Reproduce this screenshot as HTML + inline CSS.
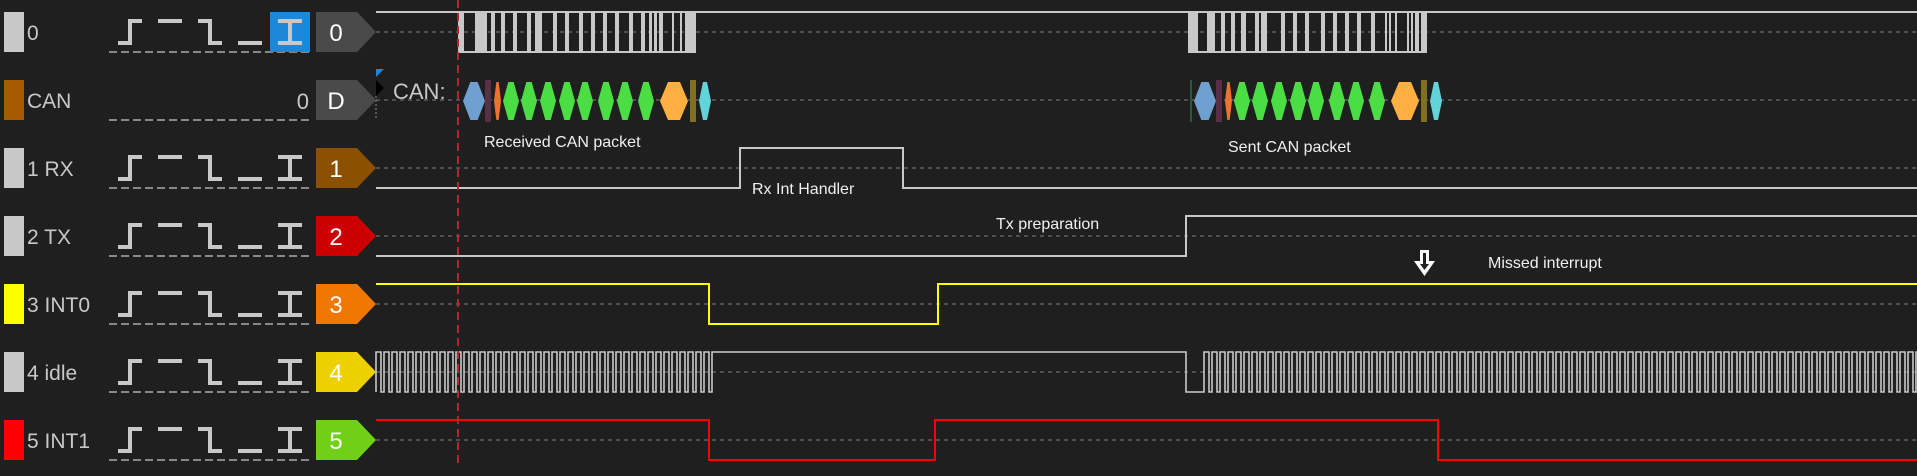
<!DOCTYPE html>
<html><head><meta charset="utf-8"><style>
html,body{margin:0;padding:0;background:#1f1f1f;overflow:hidden}
svg{display:block}
text{font-family:"Liberation Sans","DejaVu Sans",sans-serif}
</style></head><body>
<svg id="s" width="1917" height="476" xmlns="http://www.w3.org/2000/svg">
<rect width="1917" height="476" fill="#1f1f1f"/>
</svg>
<script>
var s=document.getElementById('s');var out='';
function add(x){out+=x;}
var G='#c8c8c8';
var rows=[
 {lab:'0',col:'#c8c8c8',tag:'0',tc:'#4a4a4a'},
 {lab:'CAN',col:'#a85a00',tag:'D',tc:'#4a4a4a'},
 {lab:'1 RX',col:'#c8c8c8',tag:'1',tc:'#8b5000'},
 {lab:'2 TX',col:'#c8c8c8',tag:'2',tc:'#cc0000'},
 {lab:'3 INT0',col:'#ffff00',tag:'3',tc:'#f07800'},
 {lab:'4 idle',col:'#c8c8c8',tag:'4',tc:'#ecd000'},
 {lab:'5 INT1',col:'#ff0000',tag:'5',tc:'#70d018'}];
rows.forEach(function(r,i){
 var c=32+68*i,t=c-20,b=c+20;
 add('<rect x="4" y="'+t+'" width="20" height="40" fill="'+r.col+'"/>');
 add('<text x="27" y="'+(c+8)+'" font-size="21" fill="#c8c8c8">'+r.lab+'</text>');
 add('<line x1="109" y1="'+(b)+'" x2="311" y2="'+b+'" stroke="'+G+'" stroke-width="1.3" stroke-dasharray="8,4"/>');
 if(i==1){add('<text x="309" y="'+(c+9)+'" font-size="22" fill="#c8c8c8" text-anchor="end">0</text>');}
 else{
  if(i==0)add('<rect x="270" y="'+t+'" width="40" height="40" fill="#1e88d8"/>');
  var y1=c-11,y2=c+11,P='stroke="'+G+'" stroke-width="4" fill="none"';
  add('<path d="M118 '+y2+'H130V'+y1+'H142" '+P+'/>');
  add('<path d="M158 '+(y1)+'H182" '+P+'/>');
  add('<path d="M198 '+y1+'H210V'+y2+'H222" '+P+'/>');
  add('<path d="M238 '+y2+'H262" '+P+'/>');
  add('<path d="M278 '+y1+'H302M278 '+y2+'H302M290 '+y1+'V'+y2+'" '+P+'/>');
 }
 add('<path d="M316 '+t+'H357L376 '+c+'L357 '+b+'H316Z" fill="'+r.tc+'"/>');
 add('<text x="336" y="'+(c+9)+'" font-size="24" fill="#fff" text-anchor="middle">'+r.tag+'</text>');
 add('<line x1="376" y1="'+c+'" x2="1917" y2="'+c+'" stroke="#6c6c6c" stroke-width="1.3" stroke-dasharray="4,4"/>');
});
function burst(x0,x1,blocks){
 add('<path d="M'+x0+' 12V52H'+x1+'V12" stroke="'+G+'" stroke-width="2" fill="none"/>');
 blocks.forEach(function(b){add('<rect x="'+b[0]+'" y="12" width="'+(b[1]-b[0])+'" height="41" fill="'+G+'"/>');});
}
add('<path d="M376 12H1917" stroke="'+G+'" stroke-width="2"/>');
burst(459,695,[[459,464],[475,487],[491,495],[501,505],[513,517],[527,531],[535,542],[553,557],[565,569],[579,583],[591,595],[603,607],[615,619],[629,633],[641,645],[649,652],[654,657],[659,663],[672,674],[680,682],[685,695]]);
burst(1189,1426,[[1189,1198],[1207,1215],[1221,1225],[1231,1235],[1241,1246],[1255,1259],[1261,1267],[1281,1285],[1293,1297],[1305,1309],[1321,1325],[1333,1337],[1345,1349],[1357,1361],[1371,1375],[1385,1387],[1389,1391],[1395,1397],[1407,1409],[1411,1413],[1415,1419],[1421,1426]]);
function hexg(x,w,col,y0,y1){var yc=(y0+y1)/2,d=Math.min(w/3,8);
 add('<path d="M'+x+' '+yc+'L'+(x+d)+' '+y0+'H'+(x+w-d)+'L'+(x+w)+' '+yc+'L'+(x+w-d)+' '+y1+'H'+(x+d)+'Z" fill="'+col+'"/>');}
function can(o){
 hexg(o+463,22,'#6fa0d0',82,120);
 add('<rect x="'+(o+485)+'" y="80" width="6" height="42" fill="#5a3048"/>');
 hexg(o+494,7,'#f07030',82,120);
 [503,521,540,559,577,598,617,638].forEach(function(x){hexg(o+x,16,'#4ade44',82,120);});
 hexg(o+660,28,'#ffb040',82,120);
 add('<rect x="'+(o+690)+'" y="80" width="6" height="42" fill="#807020"/>');
 hexg(o+699,12,'#60d4d8',82,120);
}
can(0);can(731);
add('<rect x="1190" y="80" width="2" height="42" fill="#206040"/>');
add('<text x="393" y="99" font-size="22" fill="#c8c8c8">CAN:</text>');
add('<path d="M376 69H384L376 77Z" fill="#1e88d8"/><path d="M376 80L384 88L376 96Z" fill="#000"/>');
add('<line x1="376" y1="96" x2="376" y2="120" stroke="#888" stroke-dasharray="2,2"/>');
add('<path d="M376 188H740V148H903V188H1917" stroke="'+G+'" stroke-width="2" fill="none"/>');
add('<path d="M376 256H1186V216H1917" stroke="'+G+'" stroke-width="2" fill="none"/>');
add('<path d="M376 284H709V324H938V284H1917" stroke="#ffff00" stroke-width="2" fill="none"/>');
function sq(a,bnd){var x=a,p='';while(x<bnd){p+='V352H'+(x+5)+'V392H'+(x+8);x+=8;}return p;}
var d='M376 392'+sq(376,706)+'V352H1186V392H1204'+sq(1204,1917);
add('<path d="'+d+'" stroke="'+G+'" stroke-width="1.6" fill="none"/>');
add('<path d="M376 420H709V460H935V420H1438V460H1917" stroke="#ff0000" stroke-width="2" fill="none"/>');
add('<line x1="458" y1="0" x2="458" y2="466" stroke="#c0202c" stroke-width="2" stroke-dasharray="8,5"/>');
function note(x,y,t){add('<text x="'+x+'" y="'+y+'" font-size="16" fill="#f0f0f0">'+t+'</text>');}
note(484,147,'Received CAN packet');
note(1228,152,'Sent CAN packet');
note(752,194,'Rx Int Handler');
note(996,229,'Tx preparation');
note(1488,268,'Missed interrupt');
add('<path d="M1420 250H1429V261H1435L1424.5 276L1414 261H1420Z" fill="#fff"/><path d="M1423 253H1426V264H1429L1424.5 270L1420 264H1423Z" fill="#1f1f1f"/>');
s.innerHTML+=out;
</script>
</body></html>
